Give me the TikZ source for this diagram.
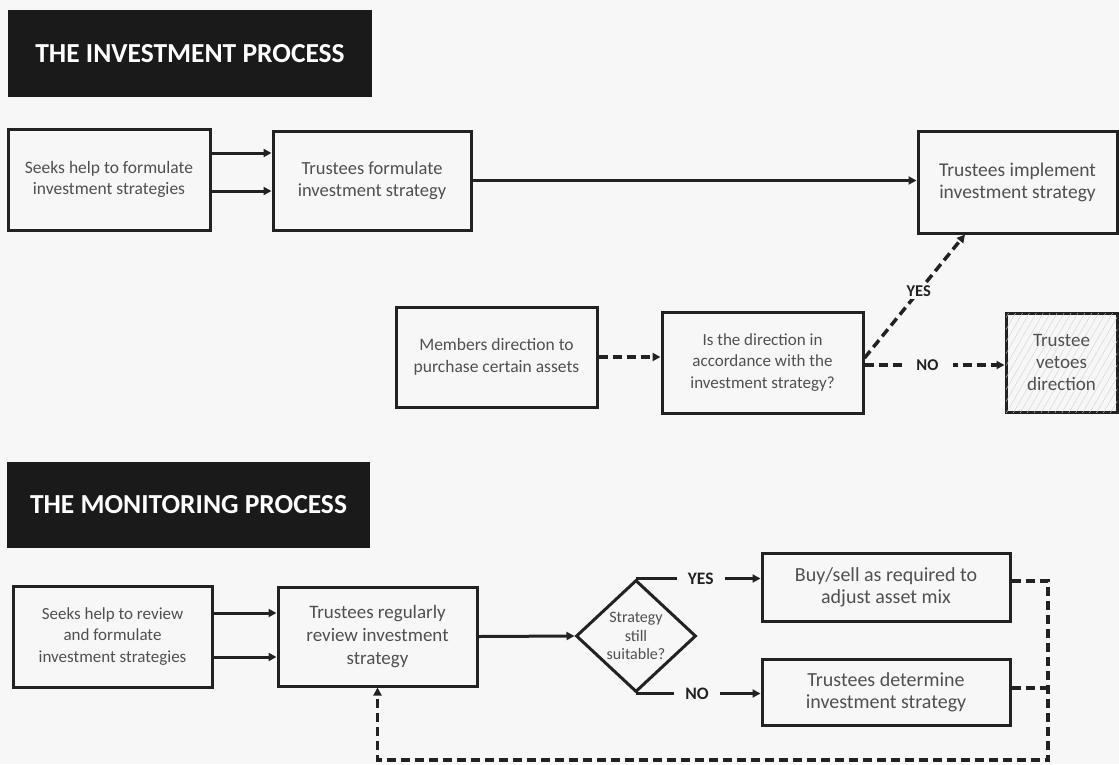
\documentclass[tikz,border=0pt]{standalone}
\usepackage{fontspec}
\setmainfont{Carlito}
\usetikzlibrary{arrows.meta,shapes.geometric,patterns.meta}
\definecolor{bg}{RGB}{247,247,247}
\definecolor{ink}{RGB}{34,34,34}
\definecolor{txt}{RGB}{80,80,80}
\definecolor{titlebg}{RGB}{26,26,26}
\tikzset{
  box/.style={draw=ink, line width=3pt, fill=bg, text=txt, align=center,
    font=\fontsize{17.5}{21.5}\selectfont, inner sep=0pt},
  fs/.style={font=\fontsize{#1}{22}\selectfont},
  titlebox/.style={fill=titlebg, text=white, font=\bfseries\fontsize{27.5}{30}\selectfont, inner sep=0pt},
  arr/.style={draw=ink, line width=3pt, -{Triangle[length=8pt,width=8pt]}},
  darr/.style={arr, line width=3.5pt, dash pattern=on 9pt off 5pt},
  dline/.style={draw=ink, line width=3.5pt, dash pattern=on 9pt off 5pt},
  lbl/.style={fill=bg, text=ink, font=\bfseries\fontsize{16.5}{18}\selectfont, inner ysep=2pt},
  hatch/.style={postaction={pattern={Lines[angle=60,distance=6pt,line width=0.4pt]}, pattern color=gray!35}},
}
\begin{document}
\begin{tikzpicture}[x=1pt,y=-1pt]
\fill[bg] (0,0) rectangle (1119,764);
\useasboundingbox (0,0) rectangle (1119,764);

% ---------- investment process ----------
\node[titlebox, minimum width=364, minimum height=87] (T1) at (190,53.5) {THE INVESTMENT PROCESS};

\node[box, minimum width=202, minimum height=101] (A) at (109,179.5) {Seeks help to formulate\\investment strategies};
\node[box, fs=18.5, minimum width=198, minimum height=99] (B) at (372,180.5) {Trustees formulate\\investment strategy};
\node[box, fs=19.5, minimum width=199, minimum height=102] (C) at (1017.5,182) {Trustees implement\\investment strategy};
\node[box, minimum width=201, minimum height=100] (D) at (496.5,357) {Members direction to\\purchase certain assets};
\node[box, font=\fontsize{17}{21.5}\selectfont, minimum width=201, minimum height=101] (E) at (762.5,362.5) {Is the direction in\\accordance with the\\investment strategy?};
\node[box, hatch, fs=19, minimum width=111, minimum height=99] (F) at (1061.5,362.5) {Trustee\\vetoes\\direction};

\draw[arr] ([yshift=26.5pt]A.east) -- ([yshift=26.5pt]A.east -| B.west);
\draw[arr] ([yshift=-11.5pt]A.east) -- ([yshift=-11.5pt]A.east -| B.west);
\draw[arr] (B.east) -- (B.east -| C.west);
\draw[darr] (D.east) -- (D.east -| E.west);
\draw[darr] ([yshift=4.5pt]E.east) -- node[lbl, pos=0.54]{YES} ([xshift=-52.5pt]C.south);
\draw[darr] ([yshift=-2.5pt]E.east) -- node[lbl, pos=0.45, inner xsep=14pt]{NO} ([yshift=-2.5pt]E.east -| F.west);

% ---------- monitoring process ----------
\node[titlebox, minimum width=363, minimum height=86] (T2) at (188.5,505) {THE MONITORING PROCESS};

\node[box, font=\fontsize{17}{21.5}\selectfont, minimum width=199, minimum height=101] (G) at (112.5,636.5) {Seeks help to review\\and formulate\\investment strategies};
\node[box, font=\fontsize{19}{23}\selectfont, minimum width=199, minimum height=99] (H) at (377.5,636.5) {Trustees regularly\\review investment\\strategy};
\node[box, shape=diamond, inner sep=-8pt, minimum width=120, minimum height=112,
      font=\fontsize{16}{18.5}\selectfont] (Dia) at (636,636) {Strategy\\still\\suitable?};
\node[box, fs=20, minimum width=248, minimum height=68] (I) at (886,587) {Buy/sell as required to\\adjust asset mix};
\node[box, fs=20, minimum width=248, minimum height=66] (J) at (886,692) {Trustees determine\\investment strategy};

\draw[arr] ([yshift=23.5pt]G.east) -- ([yshift=23.5pt]G.east -| H.west);
\draw[arr] ([yshift=-20.5pt]G.east) -- ([yshift=-20.5pt]G.east -| H.west);
\draw[arr] (H.east) -- (Dia.west);
\draw[arr] (Dia.north) -- node[lbl, font=\bfseries\fontsize{17.5}{18}\selectfont, pos=0.52, inner xsep=11pt]{YES} (Dia.north -| I.west);
\draw[arr] (Dia.south) -- node[lbl, font=\bfseries\fontsize{17.5}{18}\selectfont, pos=0.49, inner xsep=11pt]{NO} (Dia.south -| J.west);

\coordinate (R) at (1048,760);
\draw[darr] ([yshift=6pt]I.east) -| (R) -| (H.south);
\draw[dline] ([yshift=4pt]J.east) -- ([yshift=4pt]J.east -| R);
\end{tikzpicture}
\end{document}
